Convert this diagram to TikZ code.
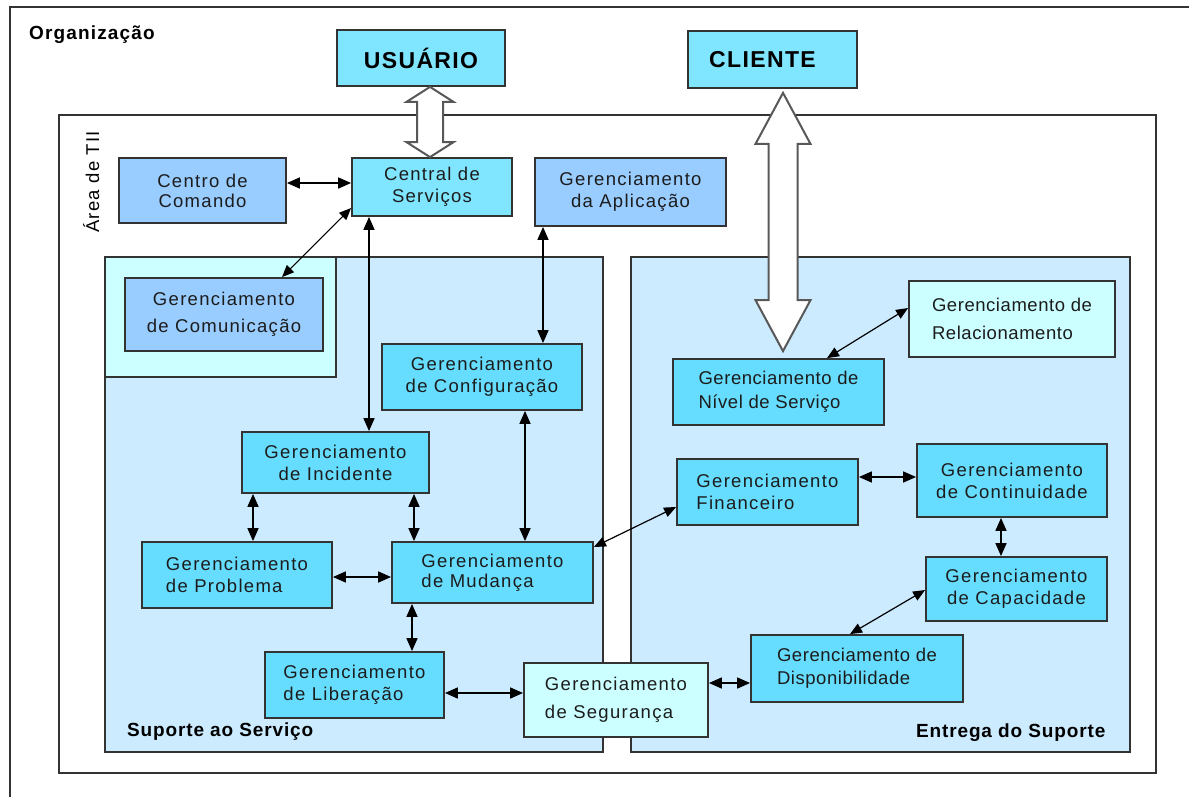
\documentclass[tikz,border=0pt]{standalone}
\usepackage{fontspec}
\setmainfont{Liberation Sans}
\newfontfamily\gfont[LetterSpace=7]{Liberation Sans}
\newfontfamily\gfontn[LetterSpace=3]{Liberation Sans}
\newfontfamily\tfont[LetterSpace=4.5]{Liberation Sans}
\newfontfamily\hfont[LetterSpace=6]{Liberation Sans}
\newfontfamily\ufont[LetterSpace=6]{Liberation Sans}
\usetikzlibrary{arrows.meta,calc}

\definecolor{cyanhi}{HTML}{80E5FF}
\definecolor{cyanmid}{HTML}{66DDFF}
\definecolor{bluebox}{HTML}{99CCFF}
\definecolor{regionblue}{HTML}{CCEBFF}
\definecolor{palecyan}{HTML}{CCFFFF}
\definecolor{edge}{HTML}{333333}
\definecolor{inktext}{HTML}{1C1C1C}
\definecolor{hollowedge}{HTML}{585858}

% double-headed hollow arrow: top tip, bottom tip, half shaft, half head, head length
\newcommand\hollowdouble[5]{%
  \draw[hollow] (#1) -- ++(#4,#5) -- ++({#3-#4},0) -- ($(#2)+(#3,-#5)$)
    -- ++({#4-#3},0) -- (#2) -- ++(-#4,-#5) -- ++({#4-#3},0)
    -- ($(#1)+(-#3,#5)$) -- ++({#3-#4},0) -- cycle;}

\tikzset{
  sz/.style 2 args={minimum width=#1pt, minimum height=#2pt},
  procbox/.style={draw=edge, line width=1.8pt, inner sep=0pt, align=center,
    text=inktext, font=\gfont\fontsize{18.5}{22}\selectfont},
  txtlead/.style={font=\gfont\fontsize{18.5}{#1}\selectfont},
  txtleadn/.style={font=\gfontn\fontsize{18.5}{#1}\selectfont},
  zone/.style={draw=edge, line width=1.6pt, inner sep=0pt},
  toptitle/.style={font=\ufont\bfseries\fontsize{23}{26}\selectfont, text=black},
  sectlabel/.style={anchor=base west, inner sep=0pt, text=black,
    font=\tfont\bfseries\fontsize{19}{22}\selectfont},
  conn/.style={draw=black, line width=1.6pt,
    {Triangle[length=13pt,width=11pt]}-{Triangle[length=13pt,width=11pt]}},
  connd/.style={draw=black, line width=1.2pt,
    {Triangle[length=12pt,width=10pt]}-{Triangle[length=12pt,width=10pt]}},
  hollow/.style={fill=white, draw=hollowedge, line width=2pt, line join=miter},
}

\begin{document}
\begin{tikzpicture}[x=1pt,y=-1pt]
\useasboundingbox (0,0) rectangle (1189,796);
\fill[white] (0,0) rectangle (1189,796);

% outer organisation frame (runs past the page edge)
\begin{scope}
  \clip (0,0) rectangle (1189,796);
  \node[zone, sz={1190}{813}] (org) at (605,413.5) {};
\end{scope}
\node[anchor=base west, inner sep=0pt, text=black,
  font=\hfont\bfseries\fontsize{19}{22}\selectfont] (orglabel) at (29,39) {Organização};

% IT area and its two sub-areas
\node[zone, sz={1097}{658}] (area) at (607.5,444) {};
\node[anchor=base west, rotate=90, inner sep=0pt, text=black,
  font=\gfont\fontsize{18.5}{22}\selectfont] (arealabel) at (99,233) {Área de TII};

\node[zone, fill=regionblue, sz={498}{495}] (suporte) at (354,504.5) {};
\node[zone, fill=palecyan, sz={231}{120}] (comreg) at (220.5,317) {};
\node[zone, fill=regionblue, sz={499}{495}] (entrega) at (880.5,504.5) {};
\node[sectlabel] (suplabel) at (127,736) {Suporte ao Serviço};
\node[sectlabel] (entlabel) at (916,737) {Entrega do Suporte};

% external actors
\node[procbox, fill=cyanhi, sz={168}{56}, toptitle] (usuario) at (421,58) {USUÁRIO};
\node[procbox, fill=cyanhi, sz={169}{57}, toptitle] (cliente) at (772.5,59.5) {CLIENTE\hspace*{20pt}};

% processes
\node[procbox, fill=bluebox, sz={167}{65}, txtlead=20] (centro) at (202.5,190.5) {Centro de\\Comando};
\node[procbox, fill=cyanhi, sz={160}{58}] (central) at (432,187) {Central de\\Serviços};
\node[procbox, fill=bluebox, sz={191}{68}] (aplicacao) at (630.5,192) {Gerenciamento\\da Aplicação};
\node[procbox, fill=bluebox, sz={198}{73}, txtlead=27] (comunicacao) at (224,314.5) {Gerenciamento\\de Comunicação};
\node[procbox, fill=cyanmid, sz={200}{66}] (configuracao) at (482,377) {Gerenciamento\\de Configuração};
\node[procbox, fill=cyanmid, sz={187}{61}] (incidente) at (335.5,462.5) {Gerenciamento\\de Incidente};
\node[procbox, fill=cyanmid, sz={190}{66}, align=left] (problema) at (237,575) {Gerenciamento\\de Problema};
\node[procbox, fill=cyanmid, sz={201}{61}, align=left, txtlead=20] (mudanca) at (492.5,572.5) {Gerenciamento\\de Mudança};
\node[procbox, fill=cyanmid, sz={179}{66}, align=left] (liberacao) at (354.5,685) {Gerenciamento\\de Liberação};
\node[procbox, fill=palecyan, sz={184}{74}, align=left, txtlead=28] (seguranca) at (616,700) {Gerenciamento\\de Segurança};
\node[procbox, fill=palecyan, sz={206}{76}, align=left, txtleadn=28] (relacionamento) at (1012,319) {Gerenciamento de\\Relacionamento};
\node[procbox, fill=cyanmid, sz={211}{66}, align=left, txtleadn=24] (nivel) at (778.5,392) {Gerenciamento de\\Nível de Serviço};
\node[procbox, fill=cyanmid, sz={181}{66}, align=left] (financeiro) at (767.5,492) {Gerenciamento\\Financeiro};
\node[procbox, fill=cyanmid, sz={190}{73}] (continuidade) at (1012,480.5) {Gerenciamento\\de Continuidade};
\node[procbox, fill=cyanmid, sz={181}{64}] (capacidade) at (1016.5,589) {Gerenciamento\\de Capacidade};
\node[procbox, fill=cyanmid, sz={212}{67}, align=left, txtleadn=23] (disponibilidade) at (857,668.5) {Gerenciamento de\\Disponibilidade};

% relations between processes
\draw[conn] (centro.east |- 0,183) -- (central.west |- 0,183);
\draw[connd] (central.west |- 0,208) -- (comunicacao.north -| 282,0);
\draw[conn] (central.south -| 369,0) -- (incidente.north -| 369,0);
\draw[conn] (aplicacao.south -| 543,0) -- (configuracao.north -| 543,0);
\draw[conn] (configuracao.south -| 525,0) -- (mudanca.north -| 525,0);
\draw[conn] (incidente.south -| 253,0) -- (problema.north -| 253,0);
\draw[conn] (incidente.south -| 414,0) -- (mudanca.north -| 414,0);
\draw[conn] (problema.east |- 0,577) -- (mudanca.west |- 0,577);
\draw[conn] (mudanca.south -| 412,0) -- (liberacao.north -| 412,0);
\draw[conn] (liberacao.east |- 0,693) -- (seguranca.west |- 0,693);
\draw[conn] (seguranca.east |- 0,683) -- (disponibilidade.west |- 0,683);
\draw[connd] (mudanca.east |- 0,547) -- (financeiro.west |- 0,507);
\draw[connd] (nivel.north -| 827,0) -- (relacionamento.west |- 0,308);
\draw[conn] (financeiro.east |- 0,477) -- (continuidade.west |- 0,477);
\draw[conn] (continuidade.south -| 1001,0) -- (capacidade.north -| 1001,0);
\draw[connd] (capacidade.west |- 0,590) -- (disponibilidade.north -| 850,0);

% hollow interface arrows
\coordinate (utop) at (usuario.south -| 430,0);
\coordinate (ubot) at (central.north -| 430,0);
\hollowdouble{utop}{ubot}{13}{23.5}{15}
\coordinate (ctop) at ($(cliente.south -| 783,0)+(0,4)$);
\coordinate (cbot) at ($(nivel.north -| 783,0)+(0,-7)$);
\hollowdouble{ctop}{cbot}{14.5}{27.5}{51}
\end{tikzpicture}
\end{document}
